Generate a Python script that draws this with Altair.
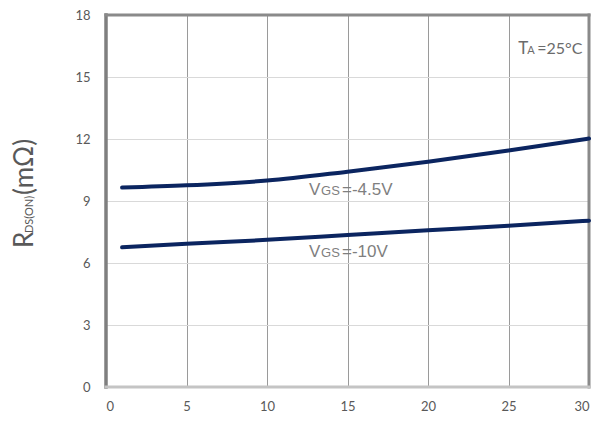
import altair as alt
import pandas as pd

# ---- data ----
id_current = [1, 5, 10, 15, 20, 25, 30]
rds_vgs_45 = [9.65, 9.76, 9.99, 10.42, 10.9, 11.44, 12.02]
rds_vgs_10 = [6.76, 6.93, 7.12, 7.35, 7.58, 7.80, 8.05]
x_ticks = [0, 5, 10, 15, 20, 25, 30]
y_ticks = [0, 3, 6, 9, 12, 15, 18]

W, H = 483, 372
XD, YD = [0, 30], [0, 18]

curves = pd.DataFrame({
    "x": id_current * 2,
    "y": rds_vgs_45 + rds_vgs_10,
    "s": ["-4.5V"] * len(id_current) + ["-10V"] * len(id_current),
})

LABEL_FONT = "Lato, Open Sans, sans-serif"

xs = alt.Scale(domain=XD, nice=False, zero=False)
ys = alt.Scale(domain=YD, nice=False, zero=False)
x_axis = alt.Axis(
    values=x_ticks, title=None, domain=False, ticks=False, grid=True,
    gridColor="#9a9a9a", gridWidth=1, labelFont=LABEL_FONT, labelFontSize=13,
    labelColor="#595959", labelPadding=13)
y_axis = alt.Axis(
    values=y_ticks, title=None, domain=False, ticks=False, grid=True,
    gridColor="#d9d9d9", gridWidth=1.2, labelFont=LABEL_FONT, labelFontSize=13,
    labelColor="#595959", labelPadding=16)


def X(f="x"):
    return alt.X(f"{f}:Q", scale=xs, axis=x_axis)


def Y(f="y"):
    return alt.Y(f"{f}:Q", scale=ys, axis=y_axis)


# frame lines (data coordinates)
borders = pd.DataFrame({
    "x": [0, 30, 0, 0], "x2": [0, 30, 30, 30],
    "y": [0, 0, 18, 0], "y2": [18, 18, 18, 0],
    "c": ["#7f7f7f", "#8a8a8a", "#8a8a8a", "#c4c4c4"],
    "w": [3.5, 3, 3, 3],
})
frame = alt.Chart(borders).mark_rule(strokeCap="square").encode(
    x=X(), x2="x2:Q", y=Y(), y2="y2:Q",
    color=alt.Color("c:N", scale=None),
    strokeWidth=alt.StrokeWidth("w:Q", scale=None),
)

lines = alt.Chart(curves).mark_line(
    color="#0b2560", strokeWidth=4, interpolate="monotone", strokeCap="round"
).encode(x=X(), y=Y(), detail="s:N")

# annotations (pieces with different sizes)
ann = pd.DataFrame({
    "x": [12.61, 12.61, 12.61, 12.61, 12.61, 12.61, 25.6, 25.6, 25.6],
    "y": [9.27, 9.27, 9.27, 6.29, 6.29, 6.29, 16.12, 16.12, 16.12],
    "t": ["V", "GS", "=-4.5V", "V", "GS", "=-10V", "T", "A", "=25°C"],
    "dx": [0, 12, 33, 0, 12, 33, 0, 9, 19],
    "fs": [17, 13, 17, 17, 13, 17, 17, 11, 16],
    "f": ["Liberation Sans"] * 6 + [LABEL_FONT] * 3,
})
texts = []
for i, r in ann.iterrows():
    texts.append(
        alt.Chart(pd.DataFrame([r])).mark_text(
            align="left", baseline="alphabetic", dx=int(r["dx"]), fontSize=int(r["fs"]),
            font=r["f"], color="#7f7f7f" if i < 6 else "#6b6b6b"
        ).encode(x=X(), y=Y(), text="t:N")
    )

# y-axis title, rotated, in pieces: R + DS(ON) subscript + (mΩ)
title_parts = pd.DataFrame({
    "t": ["R", "DS(ON)", "(mΩ)"],
    "ypix": [233, 218, 180],
    "fs": [26, 11, 26],
})
title_marks = []
for _, r in title_parts.iterrows():
    title_marks.append(
        alt.Chart(pd.DataFrame([r])).mark_text(
            angle=270, align="left", baseline="alphabetic", fontSize=int(r["fs"]),
            font=LABEL_FONT, color="#595959", clip=False
        ).encode(
            x=alt.value(-73),
            y=alt.value(int(r["ypix"])),
            text="t:N",
        )
    )

chart = alt.layer(frame, lines, *texts, *title_marks).properties(
    width=W, height=H,
    autosize=alt.AutoSizeParams(type="none"),
    padding={"left": 98, "top": 7, "right": 9, "bottom": 34},
).configure_view(stroke=None).configure(background="white")

chart.save("out.html", embed_options={"renderer": "svg", "actions": False})
